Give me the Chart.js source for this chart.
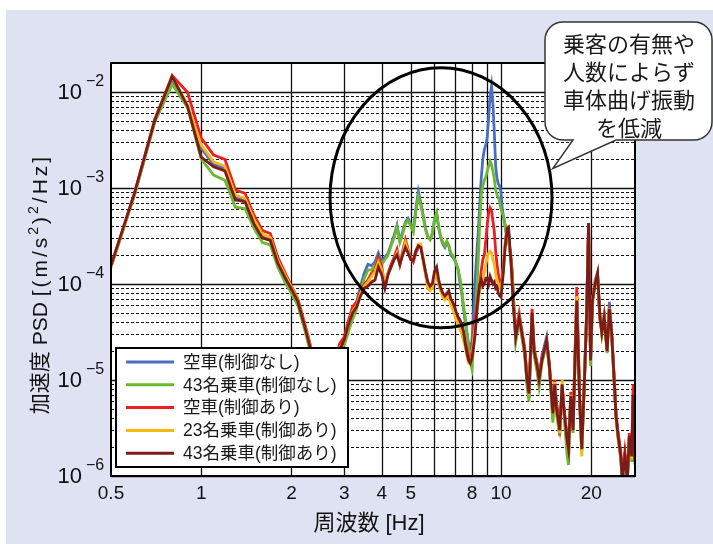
<!DOCTYPE html>
<html>
<head>
<meta charset="utf-8">
<script src="https://cdn.jsdelivr.net/npm/chart.js@4/dist/chart.umd.min.js"></script>
<style>
  html, body { margin: 0; padding: 0; background: #fff; }
  #psd { display: block; }
</style>
</head>
<body>
<canvas id="psd" width="713" height="544"></canvas>
<script>
// frequency [Hz]
const freq = [
  0.5, 0.6, 0.7, 0.8, 0.9, 1.0, 1.1, 1.2, 1.3, 1.4, 1.5, 1.6, 1.7, 1.8, 1.9, 2.0, 2.1, 2.2, 2.3, 2.4, 2.5, 2.6, 2.7, 2.8, 2.9,
  3.0, 3.1, 3.2, 3.3, 3.4, 3.5, 3.6, 3.7, 3.8, 3.9, 4.0, 4.1, 4.2, 4.3, 4.4, 4.5, 4.6, 4.7, 4.8, 4.9,
  5.0, 5.1, 5.2, 5.3, 5.4, 5.5, 5.6, 5.7, 5.8, 5.9, 6.0, 6.1, 6.2, 6.3, 6.4, 6.5, 6.6, 6.7, 6.8, 6.9,
  7.0, 7.1, 7.2, 7.3, 7.4, 7.5, 7.6, 7.7, 7.8, 7.9, 8.0, 8.1, 8.2, 8.3, 8.4, 8.5, 8.6, 8.7, 8.8, 8.9,
  9.0, 9.1, 9.2, 9.3, 9.4, 9.5, 9.6, 9.7, 9.8, 9.9, 10.0, 10.1, 10.2, 10.3, 10.4, 10.5, 10.6, 10.7, 10.8, 10.9, 11.0,
  11.2, 11.5, 11.7, 12.0, 12.2, 12.4, 12.7, 12.9, 13.2, 13.4, 13.7, 14.2, 14.5, 14.9, 15.1, 15.3, 15.7,
  16.0, 16.2, 16.6, 16.8, 17.1, 17.4, 17.7, 17.9, 18.3, 18.6, 19.0, 19.3, 19.6, 19.9, 20.2, 20.6, 21.0,
  21.4, 21.7, 22.1, 22.6, 23.0, 23.4, 23.9, 24.2, 24.6, 25.1, 25.4, 25.9, 26.4, 26.8, 27.3, 27.6, 28.0
];

// 空車(制御なし)
const psdEmptyOff = [
  1.5e-4, 8.6e-4, 4.9e-3, 1.25e-2, 7.0e-3, 2.6e-3, 1.75e-3, 1.6e-3, 8.0e-4, 7.4e-4, 4.4e-4, 3.1e-4, 2.9e-4, 1.62e-4, 1.18e-4, 8.8e-5, 6.5e-5, 3.9e-5, 2.3e-5, 1.2e-5, 7e-6, 6e-6, 8e-6, 1.4e-5, 2.0e-5,
  2.6e-5, 3.8e-5, 5.5e-5, 6.5e-5, 9.5e-5, 1.3e-4, 1.6e-4, 1.55e-4, 1.7e-4, 2.1e-4, 1.7e-4, 1.9e-4, 2.1e-4, 2.6e-4, 3.2e-4, 4.1e-4, 2.8e-4, 3.5e-4, 4.4e-4, 4.8e-4,
  4.2e-4, 3.6e-4, 6.0e-4, 9.2e-4, 7.0e-4, 5.2e-4, 3.8e-4, 3.1e-4, 2.9e-4, 3.3e-4, 4.6e-4, 5.4e-4, 3.8e-4, 3.0e-4, 2.6e-4, 2.4e-4, 2.7e-4, 2.5e-4, 2.0e-4, 1.9e-4,
  1.8e-4, 1.6e-4, 1.4e-4, 1.0e-4, 8.0e-5, 5.5e-5, 4.0e-5, 3.0e-5, 2.4e-5, 2.2e-5, 2.5e-5, 5e-5, 1.1e-4, 2.0e-4, 3.5e-4, 7e-4, 1.3e-3, 2.0e-3, 2.5e-3, 2.8e-3,
  3.4e-3, 5.5e-3, 9.0e-3, 1.15e-2, 7.5e-3, 3.8e-3, 1.7e-3, 1.25e-3, 1.1e-3, 1.05e-3, 9e-4, 6e-4, 5e-4, 4.2e-4, 3.4e-4, 3.0e-4, 2.7e-4, 2.3e-4, 1.8e-4, 1.3e-4, 7.5e-5,
  2.6e-5, 4.4e-5, 3.1e-5, 1.9e-5, 1e-5, 6.5e-6, 4.7e-5, 1.9e-5, 1.3e-5, 9.5e-6, 1.8e-5, 2.8e-5, 1.4e-5, 4e-6, 9e-6, 6e-6, 2.8e-6,
  9e-6, 5e-6, 2e-6, 1.5e-6, 6.8e-6, 3e-6, 2e-5, 7e-5, 6e-6, 1.9e-6, 1.05e-5, 4.5e-5, 4.3e-4, 1.6e-5, 6.7e-5, 1.1e-4, 1.3e-4,
  4.5e-5, 3.1e-5, 4.5e-5, 2e-5, 6.5e-5, 3.1e-5, 9e-6, 4.2e-6, 2.6e-6, 1.6e-6, 9e-7, 1.6e-6, 9e-7, 2.6e-6, 1.6e-6, 6e-6, 1.4e-6
];

// 43名乗車(制御なし)
const psd43Off = [
  1.5e-4, 8.6e-4, 4.9e-3, 1.2e-2, 6.9e-3, 2.0e-3, 1.36e-3, 1.2e-3, 6.3e-4, 6.1e-4, 3.8e-4, 2.7e-4, 2.55e-4, 1.5e-4, 1.05e-4, 8e-5, 6e-5, 3.6e-5, 2.1e-5, 1.1e-5, 6.5e-6, 5.5e-6, 7.5e-6, 1.3e-5, 1.9e-5,
  2.3e-5, 3.2e-5, 4.3e-5, 5.5e-5, 8.5e-5, 1.15e-4, 1.4e-4, 1.4e-4, 1.55e-4, 1.9e-4, 1.6e-4, 1.8e-4, 2.0e-4, 2.5e-4, 3.0e-4, 3.9e-4, 2.7e-4, 3.3e-4, 4.2e-4, 4.6e-4,
  4.0e-4, 3.5e-4, 5.6e-4, 8.2e-4, 6.6e-4, 5.0e-4, 3.7e-4, 3.1e-4, 2.9e-4, 3.4e-4, 4.7e-4, 5.5e-4, 3.9e-4, 3.1e-4, 2.7e-4, 2.5e-4, 2.8e-4, 2.5e-4, 2.1e-4, 2.0e-4,
  1.8e-4, 1.6e-4, 1.4e-4, 1.15e-4, 8.5e-5, 6e-5, 4.5e-5, 3.2e-5, 2.2e-5, 1.5e-5, 1.3e-5, 2.2e-5, 4e-5, 8e-5, 1.8e-4, 4.5e-4, 8.5e-4, 1.05e-3, 1.2e-3, 1.3e-3,
  1.5e-3, 1.7e-3, 1.9e-3, 1.75e-3, 1.5e-3, 1.25e-3, 9.5e-4, 8.5e-4, 8.1e-4, 7e-4, 6e-4, 5.5e-4, 5e-4, 4.2e-4, 3.5e-4, 3.1e-4, 2.8e-4, 2.4e-4, 1.9e-4, 1.4e-4, 8e-5,
  2.5e-5, 4.2e-5, 3e-5, 1.8e-5, 9e-6, 6e-6, 4.5e-5, 1.8e-5, 1.2e-5, 8.5e-6, 1.5e-5, 2.4e-5, 1.3e-5, 3.6e-6, 8.5e-6, 4.5e-6, 2.6e-6,
  8.5e-6, 4.8e-6, 1.7e-6, 1.3e-6, 6.5e-6, 2.8e-6, 1.9e-5, 6.5e-5, 5.8e-6, 1.8e-6, 1e-5, 4.3e-5, 4.2e-4, 1.4e-5, 6.5e-5, 1e-4, 1.25e-4,
  4.3e-5, 3e-5, 4.4e-5, 1.9e-5, 5.5e-5, 3e-5, 8.5e-6, 4e-6, 2.4e-6, 1.5e-6, 8.5e-7, 1.5e-6, 8.5e-7, 2.4e-6, 1.4e-6, 4e-6, 1.3e-6
];

// 空車(制御あり)
const psdEmptyOn = [
  1.55e-4, 9e-4, 5.2e-3, 1.48e-2, 9.9e-3, 3.3e-3, 2.2e-3, 1.98e-3, 9.5e-4, 8.8e-4, 5.2e-4, 3.6e-4, 3.35e-4, 1.9e-4, 1.33e-4, 9.5e-5, 7e-5, 4.2e-5, 2.5e-5, 1.3e-5, 8e-6, 7e-6, 1e-5, 1.7e-5, 2.4e-5,
  2.8e-5, 4.2e-5, 5.8e-5, 6.5e-5, 8.5e-5, 1.0e-4, 1.1e-4, 1.3e-4, 1.4e-4, 1.9e-4, 1.5e-4, 9.5e-5, 1.3e-4, 1.6e-4, 1.9e-4, 2.3e-4, 1.6e-4, 2.2e-4, 2.9e-4, 2.3e-4,
  1.9e-4, 1.7e-4, 2.1e-4, 2.4e-4, 2.5e-4, 1.8e-4, 1.3e-4, 9.5e-5, 8.8e-5, 9e-5, 1.2e-4, 1.3e-4, 1e-4, 8.6e-5, 7.5e-5, 7.2e-5, 7.6e-5, 7.8e-5, 6.5e-5, 5.8e-5,
  5.2e-5, 4.5e-5, 4.2e-5, 3.8e-5, 3.4e-5, 3.1e-5, 2.5e-5, 2.1e-5, 1.7e-5, 1.6e-5, 2.0e-5, 3.2e-5, 4.5e-5, 5.5e-5, 7.5e-5, 1.0e-4, 1.4e-4, 1.8e-4, 2.0e-4, 2.8e-4,
  4.2e-4, 5.5e-4, 6.2e-4, 5.8e-4, 4.5e-4, 3.5e-4, 2.2e-4, 1.6e-4, 1.25e-4, 1.1e-4, 1.0e-4, 1.1e-4, 1.6e-4, 2.4e-4, 3.2e-4, 3.8e-4, 3.6e-4, 2.3e-4, 1.8e-4, 1.2e-4, 6.5e-5,
  3.2e-5, 5e-5, 3.5e-5, 2.2e-5, 1.2e-5, 8e-6, 5.5e-5, 2.2e-5, 1.5e-5, 1.1e-5, 1.7e-5, 2.5e-5, 1.5e-5, 5e-6, 1.0e-5, 6e-6, 3.3e-6,
  8e-6, 5.5e-6, 2.6e-6, 2.2e-6, 7.5e-6, 3.5e-6, 2.5e-5, 9.3e-5, 7e-6, 2.2e-6, 1.1e-5, 5e-5, 4.0e-4, 1.8e-5, 7e-5, 1.0e-4, 1.2e-4,
  4.2e-5, 3.3e-5, 4.8e-5, 2.2e-5, 5.8e-5, 3.2e-5, 1.0e-5, 4.5e-6, 2.8e-6, 1.8e-6, 1.0e-6, 1.8e-6, 1.0e-6, 2.8e-6, 1.8e-6, 9e-6, 1.6e-6
];

// 23名乗車(制御あり)
const psd23On = [
  1.5e-4, 8.8e-4, 5.1e-3, 1.45e-2, 7.3e-3, 2.8e-3, 1.87e-3, 1.68e-3, 8.4e-4, 7.8e-4, 4.7e-4, 3.3e-4, 3.05e-4, 1.76e-4, 1.26e-4, 9.2e-5, 6.8e-5, 4e-5, 2.4e-5, 1.2e-5, 7.5e-6, 6.5e-6, 9e-6, 1.5e-5, 2.2e-5,
  2.5e-5, 3.8e-5, 5.2e-5, 6e-5, 8e-5, 9.5e-5, 1.05e-4, 1.2e-4, 1.35e-4, 1.7e-4, 1.4e-4, 1.0e-4, 1.3e-4, 1.5e-4, 1.8e-4, 2.1e-4, 1.6e-4, 2.1e-4, 2.7e-4, 2.2e-4,
  1.8e-4, 1.75e-4, 2.2e-4, 2.6e-4, 2.6e-4, 1.8e-4, 1.25e-4, 9e-5, 8.5e-5, 9e-5, 1.2e-4, 1.3e-4, 1e-4, 8.5e-5, 7.2e-5, 6.8e-5, 7.2e-5, 7.5e-5, 6e-5, 5.5e-5,
  4.8e-5, 4.2e-5, 3.8e-5, 3.4e-5, 3e-5, 2.6e-5, 2.2e-5, 1.8e-5, 1.5e-5, 1.5e-5, 1.8e-5, 2.6e-5, 3.6e-5, 4.8e-5, 6.5e-5, 8.5e-5, 1.0e-4, 1.15e-4, 1.3e-4, 1.6e-4,
  1.9e-4, 2.1e-4, 2.2e-4, 2.1e-4, 1.8e-4, 1.6e-4, 1.3e-4, 1.1e-4, 1.0e-4, 9e-5, 8.8e-5, 1.1e-4, 1.6e-4, 2.4e-4, 3.2e-4, 3.7e-4, 3.4e-4, 2.2e-4, 1.7e-4, 1.1e-4, 6e-5,
  3e-5, 4.6e-5, 3.2e-5, 2e-5, 1.1e-5, 7e-6, 4.8e-5, 2.1e-5, 1.4e-5, 1.0e-5, 1.6e-5, 2.5e-5, 1.4e-5, 4.5e-6, 9.5e-6, 5e-6, 2.8e-6,
  1.0e-5, 5e-6, 2.3e-6, 1.8e-6, 7e-6, 3e-6, 2.2e-5, 7.5e-5, 6e-6, 1.6e-6, 1.1e-5, 4.6e-5, 4.2e-4, 1.7e-5, 6.8e-5, 1.05e-4, 1.25e-4,
  4.4e-5, 3e-5, 4.6e-5, 2e-5, 5.6e-5, 3e-5, 9e-6, 4e-6, 2.5e-6, 1.5e-6, 9e-7, 1.5e-6, 9.5e-7, 2.6e-6, 1.5e-6, 5e-6, 2.2e-6
];

// 43名乗車(制御あり)
const psd43On = [
  1.55e-4, 9e-4, 5.1e-3, 1.45e-2, 7.1e-3, 2.1e-3, 1.66e-3, 1.5e-3, 7.5e-4, 7.2e-4, 4.2e-4, 3.0e-4, 2.85e-4, 1.65e-4, 1.18e-4, 8.8e-5, 6.6e-5, 3.9e-5, 2.3e-5, 1.2e-5, 7e-6, 6e-6, 8.5e-6, 1.5e-5, 2.1e-5,
  2.6e-5, 3.8e-5, 5e-5, 5.8e-5, 7.5e-5, 9e-5, 9.5e-5, 1.05e-4, 1.1e-4, 1.5e-4, 1.25e-4, 9e-5, 1.25e-4, 1.5e-4, 1.8e-4, 2.0e-4, 1.6e-4, 2.0e-4, 2.4e-4, 2.1e-4,
  1.8e-4, 1.75e-4, 2.2e-4, 2.5e-4, 2.4e-4, 1.8e-4, 1.35e-4, 1.05e-4, 9.5e-5, 1.0e-4, 1.35e-4, 1.5e-4, 1.1e-4, 9e-5, 8e-5, 7.5e-5, 8e-5, 8.5e-5, 7e-5, 6.5e-5,
  5.8e-5, 5e-5, 4.5e-5, 4.2e-5, 3.8e-5, 3.2e-5, 2.4e-5, 1.9e-5, 1.6e-5, 1.5e-5, 1.7e-5, 2.2e-5, 3e-5, 5e-5, 7.5e-5, 1.0e-4, 1.1e-4, 9.5e-5, 1.0e-4, 1.15e-4,
  1.15e-4, 1.0e-4, 1.2e-4, 1.1e-4, 1.0e-4, 1.05e-4, 9e-5, 9.3e-5, 8e-5, 7.5e-5, 7.3e-5, 1.0e-4, 1.4e-4, 2.2e-4, 3.0e-4, 3.8e-4, 3.9e-4, 2.5e-4, 1.7e-4, 1.0e-4, 5.8e-5,
  2.8e-5, 4.5e-5, 3.3e-5, 2.0e-5, 1.05e-5, 7.2e-6, 5.0e-5, 2.0e-5, 1.4e-5, 1.0e-5, 1.6e-5, 2.6e-5, 1.4e-5, 4.5e-6, 9e-6, 5.2e-6, 3.0e-6,
  9e-6, 5.2e-6, 2.4e-6, 1.9e-6, 6.8e-6, 3.0e-6, 2.0e-5, 6.7e-5, 6.2e-6, 1.9e-6, 1.05e-5, 4.5e-5, 4.3e-4, 1.6e-5, 6.7e-5, 1.0e-4, 1.3e-4,
  4.5e-5, 3.1e-5, 4.5e-5, 2.0e-5, 5.5e-5, 3.1e-5, 9e-6, 4.2e-6, 2.6e-6, 1.6e-6, 9e-7, 1.6e-6, 9e-7, 2.6e-6, 1.6e-6, 7e-6, 1.4e-6
];

const seriesLabels = ['空車(制御なし)', '43名乗車(制御なし)', '空車(制御あり)', '23名乗車(制御あり)', '43名乗車(制御あり)'];
const seriesValues = [psdEmptyOff, psd43Off, psdEmptyOn, psd23On, psd43On];
const seriesColors = ['#4a6fc2', '#6cb92f', '#ee1f24', '#f7b812', '#7b1b1b'];

const xTickValues = [0.5, 1, 2, 3, 4, 5, 8, 10, 20];
const xTickLabels = ['0.5', '1', '2', '3', '4', '5', '8', '10', '20'];
const xGridValues = [1, 2, 3, 4, 5, 6, 7, 8, 9, 10, 20];
const yDecades = [1e-6, 1e-5, 1e-4, 1e-3, 1e-2];
const yTickExps = ['−6', '−5', '−4', '−3', '−2'];

const calloutLines = ['乗客の有無や', '人数によらず', '車体曲げ振動', 'を低減'];

seriesValues.forEach((s, i) => {
  if (s.length !== freq.length) throw new Error('series ' + i + ' has ' + s.length + ' values, freq has ' + freq.length);
});

const jpFont = '"Liberation Sans", "Noto Sans CJK JP", sans-serif';

// y title pieces: [text, superscript?, extra spacing]
const yTitleParts = [['加速度 PSD ', false, 0], ['[(m/s', false, 3], ['2', true, 3], [')', false, 3], ['2', true, 3], ['/Hz]', false, 3]];

const decorations = {
  id: 'decorations',
  beforeDraw(chart) {
    const ctx = chart.ctx;
    ctx.save();
    ctx.fillStyle = '#ffffff';
    ctx.fillRect(0, 0, chart.width, chart.height);
    ctx.fillStyle = '#dfe2f2';
    ctx.fillRect(6, 10, chart.width - 6, chart.height - 10);
    const a = chart.chartArea;
    ctx.fillStyle = '#ffffff';
    ctx.fillRect(a.left, a.top, a.right - a.left, a.bottom - a.top);
    ctx.restore();
  },
  beforeDatasetsDraw(chart) {
    const ctx = chart.ctx;
    const a = chart.chartArea;
    const xs = chart.scales.x, ys = chart.scales.y;
    ctx.save();
    ctx.lineWidth = 1;
    ctx.strokeStyle = '#111';
    // dotted minor lines
    ctx.setLineDash([3, 2]);
    yDecades.forEach(d => {
      for (let k = 2; k <= 9; k++) {
        const v = d * k;
        if (v > ys.max) continue;
        const y = Math.round(ys.getPixelForValue(v)) + 0.5;
        ctx.beginPath(); ctx.moveTo(a.left, y); ctx.lineTo(a.right, y); ctx.stroke();
      }
    });
    ctx.setLineDash([]);
    ctx.lineWidth = 1.3;
    yDecades.forEach(d => {
      const y = Math.round(ys.getPixelForValue(d)) + 0.5;
      ctx.beginPath(); ctx.moveTo(a.left, y); ctx.lineTo(a.right, y); ctx.stroke();
    });
    xGridValues.forEach(v => {
      const x = Math.round(xs.getPixelForValue(v)) + 0.5;
      ctx.beginPath(); ctx.moveTo(x, a.top); ctx.lineTo(x, a.bottom); ctx.stroke();
    });
    ctx.restore();
  },
  afterDatasetsDraw(chart) {
    const ctx = chart.ctx;
    const a = chart.chartArea;
    const xs = chart.scales.x, ys = chart.scales.y;
    ctx.save();

    // plot frame
    ctx.strokeStyle = '#000';
    ctx.lineWidth = 2;
    ctx.strokeRect(a.left, a.top, a.right - a.left, a.bottom - a.top);

    // ellipse round the bending mode region
    const ex1 = xs.getPixelForValue(2.69), ex2 = xs.getPixelForValue(14.8);
    const ey1 = ys.getPixelForValue(1.78e-2), ey2 = ys.getPixelForValue(3.5e-5);
    ctx.beginPath();
    ctx.ellipse((ex1 + ex2) / 2, (ey1 + ey2) / 2, (ex2 - ex1) / 2, (ey2 - ey1) / 2, 0, 0, Math.PI * 2);
    ctx.lineWidth = 3;
    ctx.strokeStyle = '#000';
    ctx.stroke();

    // legend
    const lx = 116, ly = 348, lw = 232, lh = 119;
    ctx.fillStyle = '#fff';
    ctx.fillRect(lx, ly, lw, lh);
    ctx.lineWidth = 2;
    ctx.strokeStyle = '#000';
    ctx.strokeRect(lx, ly, lw, lh);
    ctx.font = '17.5px ' + jpFont;
    ctx.textBaseline = 'middle';
    ctx.textAlign = 'left';
    chart.data.datasets.forEach((ds, i) => {
      const y = ly + 14 + i * 22.8;
      ctx.beginPath();
      ctx.moveTo(lx + 10, y); ctx.lineTo(lx + 58, y);
      ctx.lineWidth = 3;
      ctx.strokeStyle = ds.borderColor;
      ctx.stroke();
      ctx.fillStyle = '#1a1a1a';
      ctx.fillText(ds.label, lx + 67, y + 1);
    });

    // callout
    const L = 545, T = 22, R = 712, B = 140, r = 18;
    const tip = { x: xs.getPixelForValue(14.9), y: ys.getPixelForValue(1.6e-3) };
    ctx.beginPath();
    ctx.moveTo(L + r, T);
    ctx.lineTo(R - r, T);
    ctx.arcTo(R, T, R, T + r, r);
    ctx.lineTo(R, B - r);
    ctx.arcTo(R, B, R - r, B, r);
    ctx.lineTo(616, B);
    ctx.lineTo(tip.x, tip.y);
    ctx.lineTo(573, B);
    ctx.lineTo(L + r, B);
    ctx.arcTo(L, B, L, B - r, r);
    ctx.lineTo(L, T + r);
    ctx.arcTo(L, T, L + r, T, r);
    ctx.closePath();
    ctx.fillStyle = '#fff';
    ctx.fill();
    ctx.lineWidth = 1.5;
    ctx.strokeStyle = '#333';
    ctx.stroke();
    ctx.fillStyle = '#1a1a1a';
    ctx.font = '22px "Noto Sans CJK JP", sans-serif';
    ctx.textAlign = 'center';
    ctx.textBaseline = 'middle';
    calloutLines.forEach((t, i) => ctx.fillText(t, 629, 44 + i * 28));

    // x tick labels
    ctx.fillStyle = '#111';
    ctx.font = '19px "Liberation Sans", sans-serif';
    ctx.textAlign = 'center';
    ctx.textBaseline = 'middle';
    xTickValues.forEach((v, i) => ctx.fillText(xTickLabels[i], xs.getPixelForValue(v), a.bottom + 18));

    // y tick labels 10^n
    yDecades.forEach((d, i) => {
      const y = ys.getPixelForValue(d);
      ctx.font = '22px "Liberation Sans", sans-serif';
      ctx.textAlign = 'right';
      ctx.fillText('10', 82, y + 1);
      ctx.font = '16px "Liberation Sans", sans-serif';
      ctx.textAlign = 'left';
      ctx.fillText(yTickExps[i], 86, y - 10);
    });

    // axis titles
    ctx.font = '22px ' + jpFont;
    ctx.textAlign = 'center';
    ctx.fillText('周波数 [Hz]', 369, 524);

    // y title, drawn piece by piece so the exponents sit raised
    ctx.save();
    ctx.translate(41, 284);
    ctx.rotate(-Math.PI / 2);
    ctx.textAlign = 'left';
    ctx.textBaseline = 'middle';
    const fontFor = p => (p[1] ? '14px ' : '21px ') + jpFont;
    let total = 0;
    yTitleParts.forEach(p => {
      ctx.font = fontFor(p);
      for (const ch of p[0]) total += ctx.measureText(ch).width + p[2];
    });
    let x = -total / 2;
    yTitleParts.forEach(p => {
      ctx.font = fontFor(p);
      for (const ch of p[0]) {
        ctx.fillText(ch, x, p[1] ? -7 : 0);
        x += ctx.measureText(ch).width + p[2];
      }
    });
    ctx.restore();

    ctx.restore();
  }
};

new Chart(document.getElementById('psd'), {
  type: 'line',
  data: {
    datasets: seriesLabels.map((label, i) => ({
      label: label,
      data: freq.map((f, j) => ({ x: f, y: seriesValues[i][j] })),
      borderColor: seriesColors[i],
      backgroundColor: seriesColors[i],
      borderWidth: 2.8,
      pointRadius: 0,
      tension: 0,
      fill: false,
      order: seriesLabels.length - i
    }))
  },
  options: {
    responsive: false,
    devicePixelRatio: 1,
    animation: false,
    layout: { padding: { left: 111, right: 78, top: 63, bottom: 68 } },
    scales: {
      x: { type: 'logarithmic', min: 0.5, max: 28, display: false },
      y: { type: 'logarithmic', min: 1e-6, max: 2e-2, display: false }
    },
    plugins: {
      legend: { display: false },
      tooltip: { enabled: false }
    }
  },
  plugins: [decorations]
});
</script>
</body>
</html>
